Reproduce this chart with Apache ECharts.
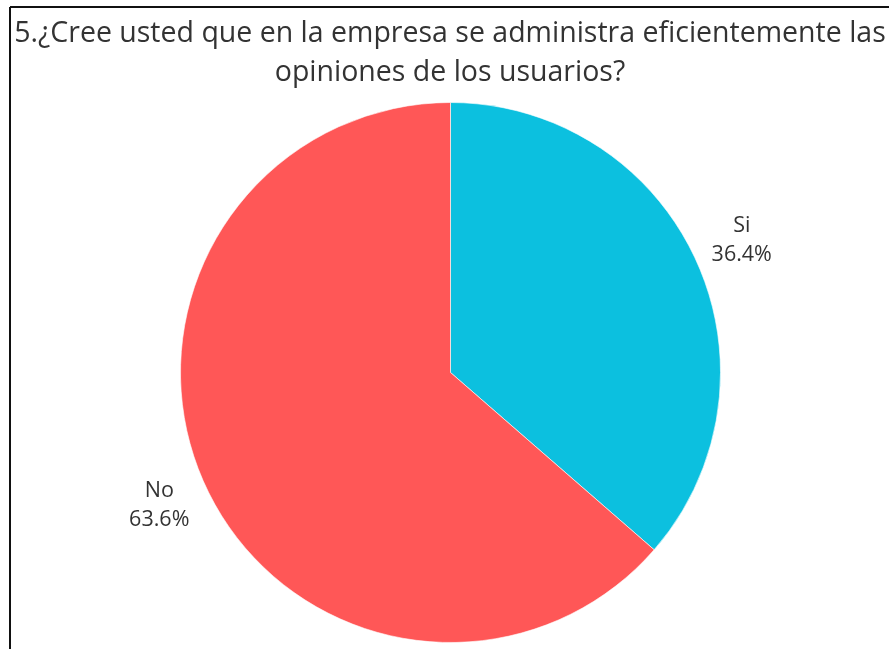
<!DOCTYPE html>
<html>
<head>
<meta charset="utf-8">
<script src="https://cdn.jsdelivr.net/npm/echarts@6/dist/echarts.min.js"></script>
<style>
  html, body { margin: 0; padding: 0; background: #ffffff; }
  #chart { width: 889px; height: 649px; }
</style>
</head>
<body>
<div id="chart"></div>
<script>
// Survey answers and their shares (%)
const categories = ['Si', 'No'];
const shares = [36.4, 63.6];
const sliceColors = ['#0cc0df', '#ff5757'];
const titleText = '5.¿Cree usted que en la empresa se administra eficientemente las\nopiniones de los usuarios?';

const pieData = categories.map((name, i) => ({
  name: name,
  value: shares[i],
  itemStyle: { color: sliceColors[i] }
}));

const chart = echarts.init(document.getElementById('chart'), null, { renderer: 'canvas' });

chart.setOption({
  backgroundColor: '#ffffff',
  animation: false,
  title: {
    text: titleText,
    left: 445,
    textAlign: 'center',
    top: 9,
    textStyle: {
      fontFamily: 'Open Sans',
      fontSize: 28.5,
      fontWeight: 'normal',
      color: '#333333',
      lineHeight: 39,
      align: 'center'
    }
  },
  graphic: [
    { type: 'line', shape: { x1: 10, y1: 7, x2: 889, y2: 7 }, style: { stroke: '#111111', lineWidth: 2 }, silent: true },
    { type: 'line', shape: { x1: 10, y1: 7, x2: 10, y2: 649 }, style: { stroke: '#111111', lineWidth: 2 }, silent: true }
  ],
  series: [
    {
      // the pie itself
      type: 'pie',
      center: [450.5, 372.5],
      radius: [0, 270],
      startAngle: 90,
      clockwise: true,
      silent: true,
      label: { show: false },
      labelLine: { show: false },
      itemStyle: { borderColor: '#ffffff', borderWidth: 0.6 },
      data: pieData
    },
    {
      // invisible ring used only to centre the category / percentage labels outside the slices
      type: 'pie',
      center: [450.5, 372.5],
      radius: [270, 364],
      startAngle: 90,
      clockwise: true,
      silent: true,
      itemStyle: { color: 'rgba(0,0,0,0)' },
      label: {
        show: true,
        position: 'inside',
        formatter: p => p.name + '\n' + p.value.toFixed(1) + '%',
        fontFamily: 'Open Sans',
        fontSize: 21.5,
        lineHeight: 29,
        color: '#333333',
        align: 'center'
      },
      labelLine: { show: false },
      data: pieData.map(d => ({ name: d.name, value: d.value }))
    }
  ]
});
</script>
</body>
</html>
